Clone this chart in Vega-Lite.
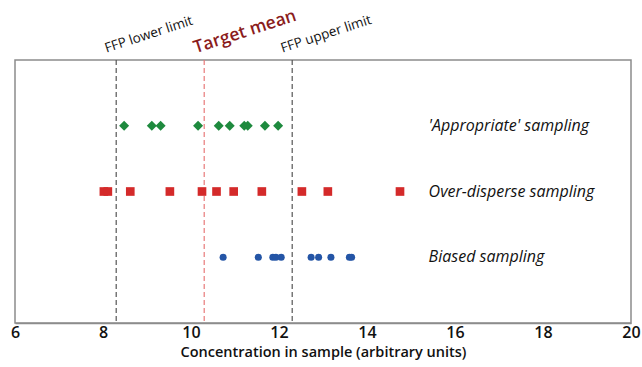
{
  "$schema": "https://vega.github.io/schema/vega-lite/v6.json",
  "width": 616,
  "height": 263,
  "autosize": "none",
  "padding": {"left": 15, "top": 60, "right": 11, "bottom": 44},
  "background": "white",
  "config": {
    "view": {"stroke": "#8c8c8c", "strokeWidth": 1.5},
    "font": "Open Sans"
  },
  "datasets": {
    "points": [
      {"group": "'Appropriate' sampling", "value": 8.48},
      {"group": "'Appropriate' sampling", "value": 9.11},
      {"group": "'Appropriate' sampling", "value": 9.31},
      {"group": "'Appropriate' sampling", "value": 10.16},
      {"group": "'Appropriate' sampling", "value": 10.63},
      {"group": "'Appropriate' sampling", "value": 10.88},
      {"group": "'Appropriate' sampling", "value": 11.21},
      {"group": "'Appropriate' sampling", "value": 11.29},
      {"group": "'Appropriate' sampling", "value": 11.68},
      {"group": "'Appropriate' sampling", "value": 11.98},
      {"group": "Over-disperse sampling", "value": 8.02},
      {"group": "Over-disperse sampling", "value": 8.11},
      {"group": "Over-disperse sampling", "value": 8.62},
      {"group": "Over-disperse sampling", "value": 9.52},
      {"group": "Over-disperse sampling", "value": 10.25},
      {"group": "Over-disperse sampling", "value": 10.58},
      {"group": "Over-disperse sampling", "value": 10.97},
      {"group": "Over-disperse sampling", "value": 11.61},
      {"group": "Over-disperse sampling", "value": 12.52},
      {"group": "Over-disperse sampling", "value": 13.11},
      {"group": "Over-disperse sampling", "value": 14.75},
      {"group": "Biased sampling", "value": 10.73},
      {"group": "Biased sampling", "value": 11.53},
      {"group": "Biased sampling", "value": 11.86},
      {"group": "Biased sampling", "value": 11.93},
      {"group": "Biased sampling", "value": 12.05},
      {"group": "Biased sampling", "value": 12.73},
      {"group": "Biased sampling", "value": 12.9},
      {"group": "Biased sampling", "value": 13.18},
      {"group": "Biased sampling", "value": 13.6},
      {"group": "Biased sampling", "value": 13.65}
    ],
    "groups": [
      {"group": "'Appropriate' sampling"},
      {"group": "Over-disperse sampling"},
      {"group": "Biased sampling"}
    ],
    "lines": [
      {"name": "FFP lower limit", "value": 8.3, "kind": "limit"},
      {"name": "Target mean", "value": 10.3, "kind": "mean"},
      {"name": "FFP upper limit", "value": 12.3, "kind": "limit"}
    ]
  },
  "encoding": {
    "y": {
      "field": "group",
      "type": "nominal",
      "scale": {"type": "point", "padding": 1, "domain": ["'Appropriate' sampling", "Over-disperse sampling", "Biased sampling"]},
      "axis": null
    }
  },
  "layer": [
    {
      "data": {"name": "lines"},
      "transform": [{"filter": "datum.kind == 'limit'"}],
      "mark": {"type": "rule", "color": "#555555", "strokeDash": [5, 3], "strokeWidth": 1.2},
      "encoding": {
        "y": null,
        "x": {"field": "value", "type": "quantitative", "scale": {"domain": [6, 20]}}
      }
    },
    {
      "data": {"name": "lines"},
      "transform": [{"filter": "datum.kind == 'mean'"}],
      "mark": {"type": "rule", "color": "#e87a7a", "strokeDash": [5, 3], "strokeWidth": 1.2},
      "encoding": {
        "y": null,
        "x": {"field": "value", "type": "quantitative"}
      }
    },
    {
      "data": {"name": "lines"},
      "transform": [{"filter": "datum.kind == 'limit'"}],
      "mark": {"type": "text", "align": "left", "baseline": "alphabetic", "fontSize": 13.5, "color": "#111111", "dx": -7, "dy": -10, "clip": false},
      "encoding": {
        "y": {"value": 0},
        "angle": {"value": 342},
        "x": {"field": "value", "type": "quantitative"},
        "text": {"field": "name"}
      }
    },
    {
      "data": {"name": "lines"},
      "transform": [{"filter": "datum.kind == 'mean'"}],
      "mark": {"type": "text", "align": "left", "baseline": "alphabetic", "fontSize": 17.5, "fontWeight": 600, "color": "#8b1c1c", "dx": -6, "dy": -9, "clip": false},
      "encoding": {
        "y": {"value": 0},
        "angle": {"value": 342},
        "x": {"field": "value", "type": "quantitative"},
        "text": {"field": "name"}
      }
    },
    {
      "data": {"name": "points"},
      "mark": {"type": "point", "filled": true, "opacity": 1},
      "encoding": {
        "x": {
          "field": "value",
          "type": "quantitative",
          "scale": {"domain": [6, 20]},
          "axis": {
            "values": [6, 8, 10, 12, 14, 16, 18, 20],
            "grid": false,
            "title": "Concentration in sample (arbitrary units)",
            "titleFontSize": 14.5,
            "titleFontWeight": 600,
            "titleColor": "#111111",
            "titlePadding": 5,
            "labelFontSize": 16,
            "labelFontWeight": 600,
            "labelColor": "#111111",
            "labelPadding": 1,
            "labelFlush": false,
            "domainColor": "#8c8c8c",
            "domainWidth": 1.5,
            "tickSize": 0
          }
        },
        "shape": {
          "field": "group",
          "type": "nominal",
          "scale": {"domain": ["'Appropriate' sampling", "Over-disperse sampling", "Biased sampling"], "range": ["diamond", "square", "circle"]},
          "legend": null
        },
        "color": {
          "field": "group",
          "type": "nominal",
          "scale": {"domain": ["'Appropriate' sampling", "Over-disperse sampling", "Biased sampling"], "range": ["#1e8a3e", "#d42a2a", "#2455a6"]},
          "legend": null
        },
        "size": {
          "field": "group",
          "type": "nominal",
          "scale": {"domain": ["'Appropriate' sampling", "Over-disperse sampling", "Biased sampling"], "range": [100, 50, 64]},
          "legend": null
        }
      }
    },
    {
      "data": {"name": "groups"},
      "mark": {"type": "text", "align": "left", "baseline": "middle", "fontSize": 16, "fontStyle": "italic", "color": "#111111"},
      "encoding": {
        "x": {"datum": 15.4, "type": "quantitative"},
        "text": {"field": "group"}
      }
    }
  ]
}
